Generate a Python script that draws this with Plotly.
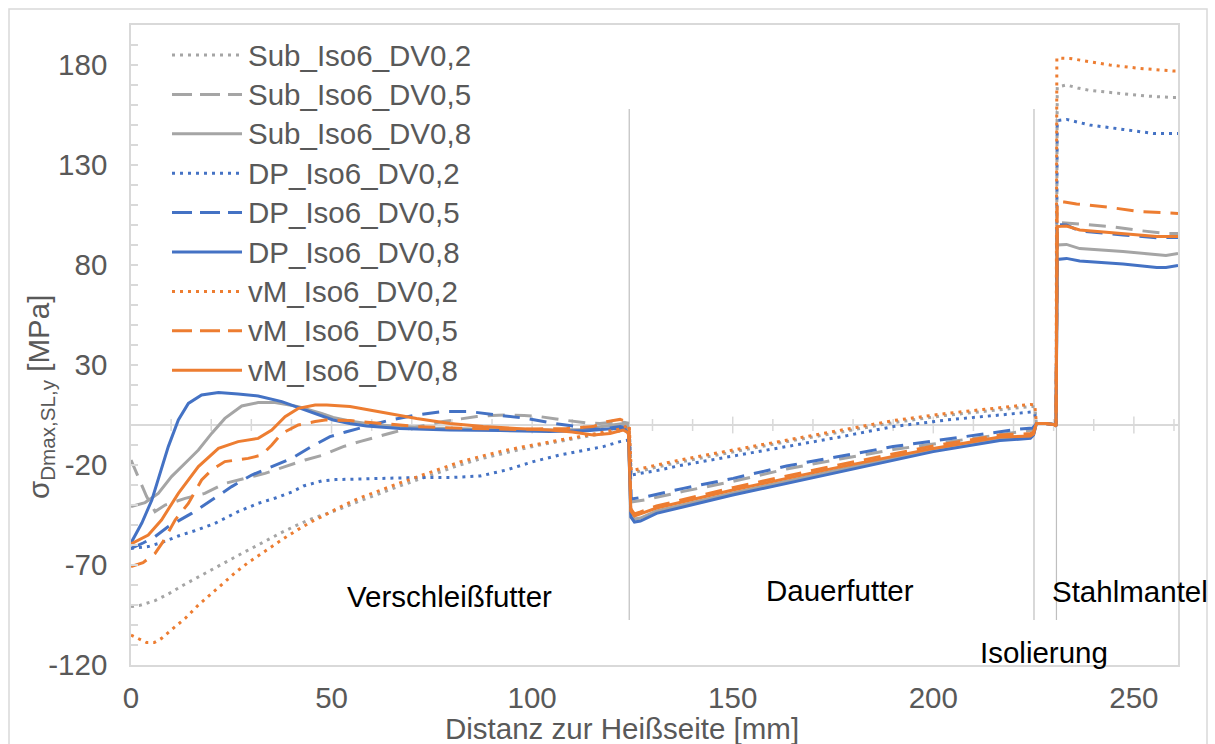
import plotly.graph_objects as go

# Distance from the hot face [mm] and longitudinal stress [MPa] for each model variant.
# Zones: Verschleissfutter (0-124), Dauerfutter (125-225), Isolierung (225-231), Stahlmantel (231-261).

sub_02_x = [0, 2.2, 6, 9.3, 13.1, 16.4, 19.9, 23.4, 26.9, 30.4, 34.2, 37.6, 41.1, 44.6, 48.2, 52.1, 57, 62.1, 67, 72,
            77, 82, 87, 92, 97, 101.9, 107, 111.9, 117, 121.9, 124.2,
            124.7, 125.5, 130, 137, 150, 163, 177, 190, 203, 216.6, 224.5, 225.3,
            225.7, 228, 230.2, 230.6,
            230.9, 233.2, 236, 239, 244, 248, 253, 259, 261]
sub_02_y = [-90.8, -90.2, -87.8, -84.5, -80, -76.3, -72.5, -68.8, -65, -61.2, -57.2, -53.7, -50.3, -47.2, -44.7, -42, -38,
            -34, -30.5, -27, -23.5, -20, -17, -14.5, -12.2, -10, -8, -6.3, -4.5, -3, -1.5,
            -24, -23.8, -21.5, -18.5, -13.5, -8.5, -3.5, 1.2, 4.8, 7.8, 9.3, 9,
            0.8, 0.8, 0.2, -0.5,
            169, 170, 168.5, 167.3, 166.3, 165.5, 164.5, 163.8, 163.8]

sub_05_x = [0, 1.8, 3.9, 6, 8.5, 13.5, 18.4, 23.4, 28.4, 33.4, 38.4, 43.4, 47.9, 52.9, 57, 61.2, 65.5, 69.5, 73.5,
            77.8, 82, 86.2, 90, 93.6, 98, 101.9, 106, 110.2, 113.5, 116.9, 119.5, 121.9, 123.8,
            124.7, 128.5, 137.7, 150.1, 163.4, 176.7, 190, 200, 213.3, 220.8, 224.8,
            225.7, 228, 230.2, 230.6,
            230.9, 233, 236.8, 244.4, 251.5, 258.2, 261]
sub_05_y = [-17.5, -25.8, -35.8, -43.3, -40, -36.7, -34.2, -29.2, -26.7, -24.2, -20.8, -17.5, -15, -10.8, -8.3, -5.8,
            -3.6, -1.7, 0, 1.7, 3, 4.2, 4.8, 5, 4.8, 4.2, 3, 1.7, 1, 0.8, 1.2, 1.7, 1,
            -38.5, -37.3, -33.2, -28.2, -22, -17, -12.3, -9.5, -5.7, -3.7, -2.5,
            0.8, 0.8, 0.2, -0.5,
            101.3, 101, 100.5, 99.2, 97.2, 95.8, 95.8]

sub_08_x = [0, 3.5, 6.8, 10.1, 14.3, 16.8, 20.1, 23.4, 27.6, 31.7, 35.9, 41.7, 47.5, 50.4, 54.5, 58.7, 65, 75, 85,
            95, 105, 112, 117, 120.2, 123, 124,
            124.6, 125.5, 127, 131, 150, 175, 200, 216.6, 224.2, 225,
            225.7, 228, 230.2, 230.6,
            230.9, 233.2, 236.5, 247.3, 255.7, 258, 261]
sub_08_y = [-40.8, -38.8, -34.2, -25.8, -17.5, -12.5, -4.2, 3.3, 9.5, 11.2, 11.2, 9.2, 5.8, 3.8, 2, 0.8, -0.5, -1.5,
            -2, -2.3, -2.5, -2.2, -1, 0, 0.8, -2,
            -44.5, -47, -46.5, -43, -34, -23, -12.5, -7, -6, -4.5,
            0.8, 0.8, 0.2, -0.5,
            90, 90.3, 88.2, 86.7, 85, 84.8, 85.8]

dp_02_x = [0, 4.3, 7.6, 11.8, 16, 20.9, 26.7, 31.7, 36, 40.1, 43, 47.5, 51, 55.4, 63.7, 72, 80.3, 87, 93.6, 100.3,
           106.9, 113.6, 117.7, 121.9, 124.2,
           124.7, 131, 136.8, 144.3, 150.1, 163.4, 176.7, 190, 203.3, 216.6, 224.5, 225.3,
           225.7, 228, 230.2, 230.6,
           230.9, 233.2, 239, 247.3, 254.8, 261]
dp_02_y = [-61.7, -60.8, -58.8, -55.5, -52.8, -49.2, -43.3, -39.2, -36.5, -33.5, -30.5, -28, -27.3, -27, -26.7, -26.2,
           -26.2, -25.5, -22.5, -18.3, -15, -12.2, -10.8, -8.3, -7.5,
           -25, -22.8, -20.3, -17.5, -15.5, -10.8, -6, -0.8, 2.5, 5, 6.5, 5.5,
           0.8, 0.8, 0.2, -0.5,
           152.2, 152.8, 150, 147.8, 145.8, 145.8]

dp_05_x = [0, 3, 6, 9.3, 15.1, 20.1, 25.1, 30.1, 35.1, 40.1, 45, 49.6, 53.5, 57.1, 60.8, 64.6, 71.2, 77.8, 84.5, 91.2,
           98.6, 105.3, 111.9, 116.9, 121.9, 124.2,
           124.7, 128.5, 137.7, 150.1, 163.4, 176.7, 190, 200, 213.3, 220.8, 224.8,
           225.7, 228, 230.2, 230.6,
           230.9, 233.2, 236.5, 247.3, 255.7, 261]
dp_05_y = [-61.7, -59, -55.8, -50.8, -44.2, -37.5, -30.8, -25, -20.8, -16.7, -10.8, -5.8, -3.5, -1.7, 0.5, 2.5, 5,
           6.7, 6.7, 5, 3.3, 0.8, -0.8, -2.2, -0.8, -1.5,
           -37, -35.8, -31.7, -26.7, -20.5, -15.5, -10.8, -8, -4.2, -2.2, -1.5,
           0.8, 0.8, 0.2, -0.5,
           100.2, 100, 97, 95, 93.6, 93.8]

dp_08_x = [0, 2.7, 5.2, 7.2, 9.3, 11.8, 14.3, 17.6, 21.8, 26.7, 31.7, 37.6, 42.5, 46.5, 50.4, 54.5, 58.7, 67, 79.5,
           92, 104.4, 114.4, 120.2, 123.1, 124,
           124.6, 125.5, 127, 131, 150, 175, 200, 216.6, 224.2, 225,
           225.7, 228, 230.2, 230.6,
           230.9, 233.2, 236.5, 247.3, 255.7, 258, 261]
dp_08_y = [-59, -49, -37.5, -24.2, -10.8, 2.5, 10.8, 15, 16.2, 15.5, 14.5, 11.7, 8.3, 5.5, 2.5, 0.8, -0.5, -1.7, -2.5,
           -2.8, -3.3, -2.8, -1.7, -2.2, -4,
           -46, -48.5, -48, -44.2, -35, -24.2, -13.3, -7.8, -6.7, -5,
           0.8, 0.8, 0.2, -0.5,
           82.8, 83.3, 82, 80.5, 78.8, 78.8, 79.7]

vm_02_x = [0, 1.8, 3.9, 5.8, 7.6, 10.5, 13.5, 16.8, 20.1, 23.4, 26.3, 29.2, 32.6, 35.5, 38.8, 41.7, 45, 48.4, 52.1,
           57, 62.1, 67, 72, 77, 82, 87, 92, 97, 101.9, 107, 111.9, 117, 121.9, 124.2,
           124.7, 125.5, 136.8, 150.1, 163.4, 176.7, 190, 203.3, 216.6, 224.3, 225.3,
           225.7, 228, 230.2, 230.6,
           230.8, 234, 239, 244, 251.5, 256, 259.8, 261]
vm_02_y = [-105, -106.7, -108.8, -108.8, -106.7, -101.7, -96.7, -90, -84.2, -78.3, -73.3, -68.8, -64.2, -60, -55.8,
           -52.2, -48.3, -45, -41, -36.5, -32.5, -29, -25.5, -22, -18.5, -15.8, -13.3, -11.2, -9.2, -7.5, -5.8,
           -3.8, -2, 0,
           -22.8, -22.5, -17.5, -12.5, -7.5, -2.5, 2.2, 5.8, 8.8, 10.3, 10,
           0.8, 0.8, 0.2, -0.5,
           183.5, 183.3, 181.7, 180, 178.3, 177.5, 177, 177]

vm_05_x = [0, 3, 6, 8, 11, 14.3, 17.6, 20.1, 23.4, 29.2, 32.6, 35.1, 37.6, 41.7, 45.9, 48.4, 54.6, 62.9, 71.2, 83.7,
           96.1, 108.6, 115.2, 118.6, 121.9, 123.6, 124.2,
           124.6, 125.5, 127, 131, 150, 175, 200, 216.6, 224.2, 225,
           225.7, 228, 230.2, 230.6,
           230.9, 232.7, 235.7, 244, 251.5, 259, 261]
vm_05_y = [-70.8, -68.8, -64.2, -58.3, -47.5, -39.2, -27.5, -22.5, -18.3, -16.7, -15, -10, -4.2, 0, 1.7, 2.5, 2.2,
           0.8, -0.8, -1.7, -2.2, -1.7, -0.8, 1.7, 2.8, 1.7, -2,
           -42, -44.5, -43.5, -40.5, -31.3, -20.5, -10.5, -5, -4.3, -3.5,
           0.8, 0.8, 0.2, -0.5,
           111.7, 111.5, 110.5, 108.8, 106.7, 105.8, 105.8]

vm_08_x = [0, 4.3, 7.6, 11.8, 16.8, 21.8, 26.7, 31.7, 35.1, 38.4, 41.7, 45.9, 48.8, 54.6, 62.9, 71.2, 79.5, 87.8,
           96.1, 104.4, 110, 115.2, 119.4, 122.7, 124,
           124.6, 125.5, 127, 131, 150, 175, 200, 216.6, 224.2, 225,
           225.7, 228, 230.2, 230.6,
           230.9, 233.2, 236.5, 247.3, 255.7, 261]
vm_08_y = [-59.5, -55, -47.5, -34.2, -20.8, -11.7, -8.3, -6.7, -2.5, 4.2, 8.3, 10, 10, 9.2, 6.2, 3.3, 0.8, -0.8, -1.7,
           -2.5, -3.5, -5, -4.2, -2.5, -4,
           -43, -45.5, -44.5, -41.5, -32.5, -21.7, -11.7, -6, -5.5, -4.5,
           0.8, 0.8, 0.2, -0.5,
           99.2, 99.5, 97.5, 95.5, 94.2, 94.3]

series_names = ["Sub_Iso6_DV0,2", "Sub_Iso6_DV0,5", "Sub_Iso6_DV0,8",
                "DP_Iso6_DV0,2", "DP_Iso6_DV0,5", "DP_Iso6_DV0,8",
                "vM_Iso6_DV0,2", "vM_Iso6_DV0,5", "vM_Iso6_DV0,8"]
series_x = [sub_02_x, sub_05_x, sub_08_x, dp_02_x, dp_05_x, dp_08_x, vm_02_x, vm_05_x, vm_08_x]
series_y = [sub_02_y, sub_05_y, sub_08_y, dp_02_y, dp_05_y, dp_08_y, vm_02_y, vm_05_y, vm_08_y]

# Zone boundaries and zone labels
zone_bounds = [124.2, 225.1, 230.7]
zone_labels = ["Verschleißfutter", "Dauerfutter", "Stahlmantel", "Isolierung"]
zone_label_x = [79.5, 176.7, 249.0, 227.6]
zone_label_y = [-85.5, -82.5, -83.0, -113.5]

x_ticks = [0, 50, 100, 150, 200, 250]
y_ticks = [-120, -70, -20, 30, 80, 130, 180]
y_tick_labels = ["-120", "-70", "-20", "30", "80", "130", "180"]

GRAY, BLUE, ORANGE = "#A5A5A5", "#4472C4", "#ED7D31"
colors = [GRAY, GRAY, GRAY, BLUE, BLUE, BLUE, ORANGE, ORANGE, ORANGE]
dashes = ["3px,5px", "17px,10px", "solid"] * 3
legend_dashes = ["3px,5px", "20px,8px", "solid"] * 3

FONT = "Liberation Sans, Arial, sans-serif"
FS = 29.5
AXIS_GRAY = "#D9D9D9"
TEXT_GRAY = "#595959"

# plot-area geometry in pixels (for paper-referenced decorations)
W, H = 1215, 744
L, R, T, B = 131, 37, 25, 79
PW, PH = W - L - R, H - T - B


def px_x(p):
    return (p - L) / PW


def px_y(p):
    return (H - B - p) / PH


fig = go.Figure()
for name, xs, ys, c, d in zip(series_names, series_x, series_y, colors, dashes):
    fig.add_trace(go.Scatter(x=xs, y=ys, name=name, mode="lines", showlegend=False,
                             line=dict(color=c, width=3, dash=d)))

# legend: line sample plus label for each series
for i, (name, c, d) in enumerate(zip(series_names, colors, legend_dashes)):
    yc = px_y(55 + 39.4 * i)
    fig.add_shape(type="line", xref="paper", yref="paper", x0=px_x(172), x1=px_x(242), y0=yc, y1=yc,
                  line=dict(color=c, width=3, dash=d))
    fig.add_annotation(xref="paper", yref="paper", x=px_x(246), y=yc, xanchor="left", yanchor="middle",
                       text=name, showarrow=False, font=dict(family=FONT, size=FS, color=TEXT_GRAY))

# zone separators
for xb in zone_bounds:
    fig.add_shape(type="line", xref="x", yref="y", x0=xb, x1=xb, y0=-97.5, y1=158,
                  line=dict(color="#BFBFBF", width=1.2), layer="below")

# tick marks on the horizontal axis at y = 0
for xt in range(10, 261, 10):
    half = 4.2 if xt % 50 == 0 else 3.0
    fig.add_shape(type="line", xref="x", yref="y", x0=xt, x1=xt, y0=-half, y1=half,
                  line=dict(color=AXIS_GRAY, width=1.5), layer="below")

for txt, xa, ya in zip(zone_labels, zone_label_x, zone_label_y):
    fig.add_annotation(x=xa, y=ya, xref="x", yref="y", text=txt, showarrow=False,
                       xanchor="center", yanchor="middle",
                       font=dict(family=FONT, size=FS, color="#000000"))

# axis titles
fig.add_annotation(xref="paper", yref="paper", x=px_x(40), y=px_y(397), xanchor="center", yanchor="middle",
                   text="σ<sub>Dmax,SL,y</sub> [MPa]", textangle=-90, showarrow=False,
                   font=dict(family=FONT, size=FS, color=TEXT_GRAY))
fig.add_annotation(xref="paper", yref="paper", x=px_x(622), y=px_y(728), xanchor="center", yanchor="middle",
                   text="Distanz zur Heißseite [mm]", showarrow=False,
                   font=dict(family=FONT, size=FS, color=TEXT_GRAY))

# outer chart frame
fig.add_shape(type="rect", xref="paper", yref="paper",
              x0=px_x(9), x1=px_x(1207), y0=px_y(760), y1=px_y(9),
              line=dict(color=AXIS_GRAY, width=1.5), fillcolor="rgba(0,0,0,0)", layer="above")

fig.update_layout(
    width=W, height=H,
    margin=dict(l=L, r=R, t=T, b=B),
    paper_bgcolor="white", plot_bgcolor="white",
    font=dict(family=FONT, size=FS, color=TEXT_GRAY),
    showlegend=False,
    xaxis=dict(range=[0, 261], tickvals=x_ticks, ticks="", showgrid=False, zeroline=False,
               showline=True, mirror=True, linecolor=AXIS_GRAY, linewidth=1.5,
               ticklabelstandoff=6,
               tickfont=dict(family=FONT, size=FS, color=TEXT_GRAY)),
    yaxis=dict(range=[-120, 200], tickvals=y_ticks, ticktext=y_tick_labels, ticks="inside", ticklen=7,
               tickcolor=AXIS_GRAY, tickwidth=1.5, showgrid=False,
               zeroline=True, zerolinecolor=AXIS_GRAY, zerolinewidth=2,
               showline=True, mirror=True, linecolor=AXIS_GRAY, linewidth=1.5,
               ticklabelstandoff=16,
               minor=dict(tick0=-120, dtick=10, ticks="inside", ticklen=7, tickcolor=AXIS_GRAY, tickwidth=1.5),
               tickfont=dict(family=FONT, size=FS, color=TEXT_GRAY)),
)

fig.write_html("out.html")
